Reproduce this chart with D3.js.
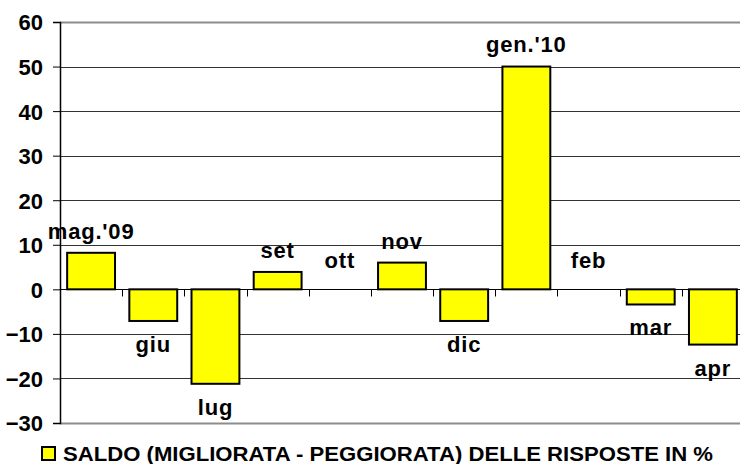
<!DOCTYPE html>
<html>
<head>
<meta charset="utf-8">
<script src="https://cdn.jsdelivr.net/npm/d3@7"></script>
<style>
  body { margin: 0; background: #fff; }
  text { font-family: "Liberation Sans", Arial, sans-serif; font-weight: bold; fill: #000; }
</style>
</head>
<body>
<div id="chart"></div>
<script>
var svgWidth = 740;
var svgHeight = 464;

// data
var months = ["mag.'09", "giu", "lug", "set", "ott", "nov", "dic", "gen.'10", "feb", "mar", "apr"];
var saldo = [8.2, -7.1, -21.2, 3.9, 0, 6.0, -7.1, 50, 0, -3.4, -12.4];
var yTicks = [-30, -20, -10, 0, 10, 20, 30, 40, 50, 60];
var legendLabel = "SALDO (MIGLIORATA - PEGGIORATA) DELLE RISPOSTE IN %";

var margin = { top: 22, right: -4, bottom: 41, left: 60 };
var chartWidth = svgWidth - margin.left - margin.right;
var chartHeight = svgHeight - margin.top - margin.bottom;

var svg = d3.select("#chart")
  .append("svg")
  .attr("width", svgWidth)
  .attr("height", svgHeight);

var chartGroup = svg.append("g")
  .attr("transform", `translate(${margin.left}, ${margin.top})`);

var xScale = d3.scaleBand()
  .domain(months)
  .range([0, chartWidth])
  .paddingInner(0.23)
  .paddingOuter(0.115);

var yScale = d3.scaleLinear()
  .domain([-30, 60])
  .range([chartHeight, 0]);

// gridlines
chartGroup.selectAll(".grid")
  .data(yTicks)
  .enter()
  .append("line")
  .attr("x1", 0)
  .attr("x2", chartWidth)
  .attr("y1", d => Math.round(yScale(d)) + 0.5)
  .attr("y2", d => Math.round(yScale(d)) + 0.5)
  .attr("stroke", d => (d === 60 || d === -30) ? "#8c8c8c" : "#333")
  .attr("stroke-width", d => (d === 60 || d === -30) ? 2 : 1);

// left axis
var leftAxis = d3.axisLeft(yScale)
  .tickValues(yTicks)
  .tickSize(7)
  .tickPadding(10);

var yAxisG = chartGroup.append("g").call(leftAxis);
yAxisG.select(".domain").attr("stroke", "#000").attr("stroke-width", 1.5);
yAxisG.selectAll(".tick line").attr("stroke", "#000");
yAxisG.selectAll(".tick text")
  .style("font-size", "22px")
  .attr("dy", "0.36em");

// bars
chartGroup.selectAll(".bar")
  .data(saldo)
  .enter()
  .append("rect")
  .attr("x", (d, i) => xScale(months[i]))
  .attr("y", d => yScale(Math.max(0, d)))
  .attr("width", xScale.bandwidth())
  .attr("height", d => Math.abs(yScale(d) - yScale(0)))
  .attr("fill", d => d === 0 ? "none" : "#ffff00")
  .attr("stroke", d => d === 0 ? "none" : "#000")
  .attr("stroke-width", 2);

// category axis along zero
var zeroY = Math.round(yScale(0)) + 0.5;
chartGroup.append("line")
  .attr("x1", 0).attr("x2", chartWidth)
  .attr("y1", zeroY).attr("y2", zeroY)
  .attr("stroke", "#000");

var step = xScale.step();
var firstEdge = xScale(months[0]) - step * xScale.paddingInner() / 2;
chartGroup.selectAll(".xtick")
  .data(d3.range(1, months.length))
  .enter()
  .append("line")
  .attr("x1", d => Math.round(firstEdge + d * step) + 0.5)
  .attr("x2", d => Math.round(firstEdge + d * step) + 0.5)
  .attr("y1", zeroY)
  .attr("y2", zeroY + 7)
  .attr("stroke", "#000");

// category labels next to the bars
chartGroup.selectAll(".lbl")
  .data(saldo)
  .enter()
  .append("text")
  .attr("x", (d, i) => xScale(months[i]) + xScale.bandwidth() / 2)
  .attr("y", d => d > 0 ? yScale(d) - 22 : (d < 0 ? yScale(d) + 23 : yScale(0) - 29))
  .attr("dy", "0.36em")
  .attr("text-anchor", "middle")
  .style("font-size", "22px")
  .style("letter-spacing", "0.8px")
  .text((d, i) => months[i]);

// legend
var legend = svg.append("g")
  .attr("transform", `translate(42, 447)`);

legend.append("rect")
  .attr("width", 13)
  .attr("height", 13)
  .attr("fill", "#ffff00")
  .attr("stroke", "#000")
  .attr("stroke-width", 2);

legend.append("text")
  .attr("x", 21)
  .attr("y", 14)
  .attr("textLength", 650)
  .attr("lengthAdjust", "spacingAndGlyphs")
  .style("font-size", "21px")
  .text(legendLabel);
</script>
</body>
</html>
